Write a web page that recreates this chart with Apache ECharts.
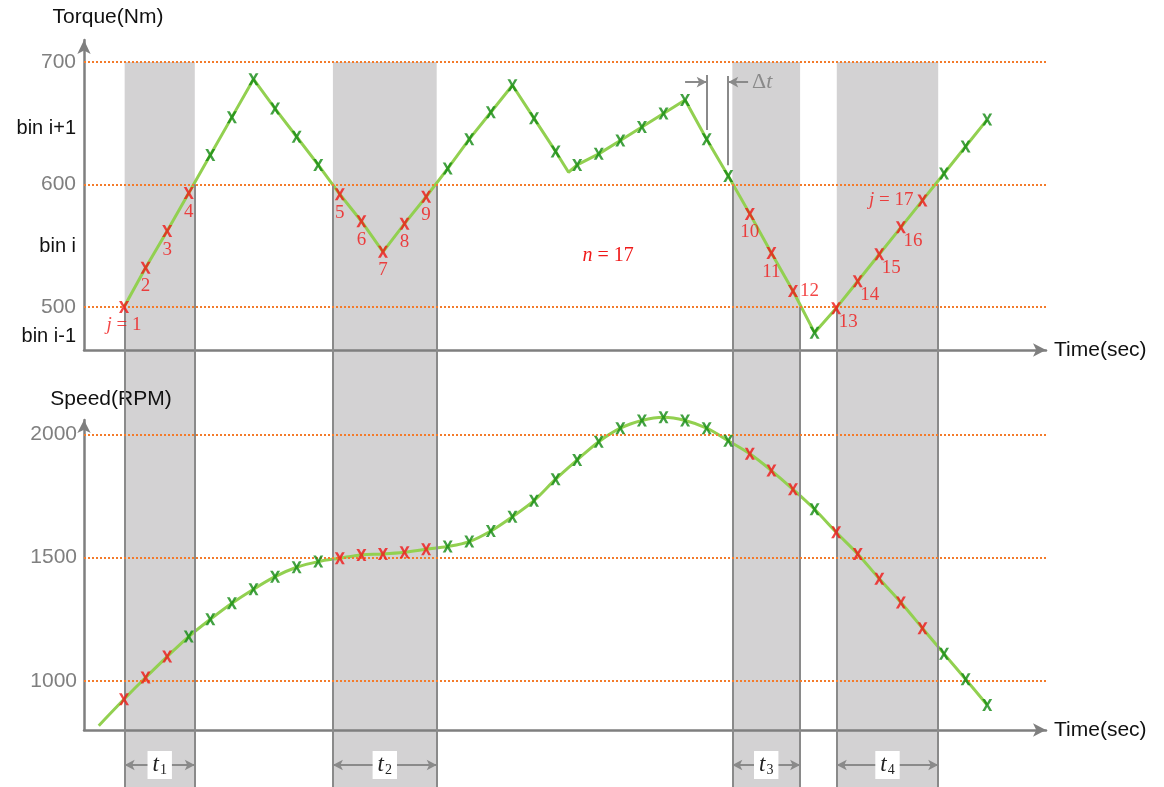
<!DOCTYPE html>
<html><head><meta charset="utf-8">
<script src="https://cdn.jsdelivr.net/npm/echarts@6/dist/echarts.min.js"></script>
<style>html,body{margin:0;padding:0;background:#fff}#c{width:1164px;height:787px}</style>
</head><body><div id="c"></div>
<script>
// ---- data ----
const sampleT = [0,1,2,3,4,5,6,7,8,9,10,11,12,13,14,15,16,17,18,19,20,21,22,23,24,25,26,27,28,29,30,31,32,33,34,35,36,37,38,39,40];
const torque = [500,532,562,593,624,655,686,662,639,616,592,570,545,568,590,613,637,659,681,654,627,616,625,636,647,658,669,637,607,576,544,513,479,499,521,543,565,587,609,631,653];
const torqueVertex = [20.6, 610];           // line corner between samples
const speed = [926,1014,1099,1180,1250,1315,1372,1423,1461,1484,1498,1511,1515,1522,1534,1545,1565,1608,1666,1731,1818,1896,1970,2025,2056,2069,2056,2025,1974,1921,1853,1777,1696,1603,1515,1414,1318,1214,1110,1007,903];
const speedLead = [-1.17, 819];             // start of the speed curve
const torqueRed = [0,1,2,3,10,11,12,13,14,29,30,31,33,34,35,36,37];
const speedRed = [0,1,2,10,11,12,13,14,29,30,31,33,34,35,36,37];
const jLabels = ['j = 1','2','3','4','5','6','7','8','9','10','11','12','13','14','15','16','j = 17'];
const bands = [[0.03,3.28],[9.68,14.49],[28.19,31.33],[33.03,37.73]];
const bandEdgeFrom = [[500,600],[600,600],[600,500],[500,600]];
const bandNames = ['1','2','3','4'];
const torqueTicks = [500,600,700];
const binValues = [476,549,646];
const binNames = ['bin i-1','bin i','bin i+1'];
const speedTicks = [1000,1500,2000];
const deltaT = [27,28];
const nText = 'n = 17';

// ---- scales ----
const X_MIN = -1.854, X_MAX = 42.725;
const T_MIN = 464.85, T_MAX = 717.98;
const S_MIN = 801.4, S_MAX = 2057.97;
const BG_MIN = 107.33, BG_MAX = 700;
const T_LABEL_Y = 125.3;

const GREEN_LINE = '#92d050', GREEN_X = '#138a13', RED_X = '#f01818', ORANGE = '#f37b2b', GRAY = '#7f7f7f', BAND = '#d3d2d3';
const XPATH = 'path://M0,0 L2.8,0 L5,3.9 L7.2,0 L10,0 L6.5,6 L10,12 L7.2,12 L5,8.1 L2.8,12 L0,12 L3.5,6 Z';
const SERIF = '"Liberation Serif", "DejaVu Serif", serif';
const SANS = '"Liberation Sans", Arial, sans-serif';

const torqueLine = sampleT.map((t,i)=>[t,torque[i]]).concat([torqueVertex]).sort((a,b)=>a[0]-b[0]);
const speedLine = [speedLead].concat(sampleT.map((t,i)=>[t,speed[i]]));

function labelPlacement(k){
  if (k === 11) return {position:'right', distance:2};
  if (k === 16) return {position:'left', distance:4};
  if (k >= 12 && k <= 15) return {position:'bottom', distance:4, offset:[12,-6]};
  return {position:'bottom', distance:3};
}
const torqueRedData = torqueRed.map((i,k)=>({value:[sampleT[i],torque[i]], label:Object.assign({show:true, formatter: jLabels[k].replace('j','{i|j}')}, labelPlacement(k))}));
const torqueGreenData = sampleT.map((t,i)=>[t,torque[i]]).filter((d,i)=>torqueRed.indexOf(i)<0);
const speedRedData = speedRed.map(i=>[sampleT[i],speed[i]]);
const speedGreenData = sampleT.map((t,i)=>[t,speed[i]]).filter((d,i)=>speedRed.indexOf(i)<0);

function xAxisDef(gi, show){
  return {type:'value', gridIndex:gi, min:X_MIN, max:X_MAX, show:show, z:3,
    name: show ? 'Time(sec)' : '', nameLocation:'end', nameGap:8,
    nameTextStyle:{color:'#111', fontSize:21, fontFamily:SANS},
    axisLine:{show:true, onZero:false, symbol:['none','arrow'], symbolSize:[10,13], lineStyle:{color:GRAY, width:2.5}},
    axisTick:{show:false}, axisLabel:{show:false}, splitLine:{show:false}};
}
const numRich = {n:{color:GRAY, fontSize:21, fontFamily:SANS}, b:{color:'#111', fontSize:20, fontFamily:SANS}};

const option = {
  animation:false,
  grid:[
    {left:84, top:40, width:962, height:310},
    {left:84, top:420, width:962, height:310},
    {left:84, top:62, width:962, height:725}
  ],
  xAxis:[xAxisDef(0,true), xAxisDef(1,true), {type:'value', gridIndex:2, min:X_MIN, max:X_MAX, show:false}],
  yAxis:[
    {type:'value', gridIndex:0, min:T_MIN, max:T_MAX, z:3,
     name:'Torque(Nm)', nameLocation:'end', nameGap:12,
     nameTextStyle:{color:'#111', fontSize:21, fontFamily:SANS, align:'center', padding:[0,0,0,48]},
     axisLine:{show:true, onZero:false, symbol:['none','arrow'], symbolSize:[10,14], lineStyle:{color:GRAY, width:2.5}},
     axisTick:{show:false}, splitLine:{show:false},
     axisLabel:{customValues:torqueTicks.concat(binValues), margin:8, rich:numRich,
       formatter:v=>{const k=binValues.indexOf(v); return k>=0 ? '{b|'+binNames[k]+'}' : '{n|'+v+'}';}}},
    {type:'value', gridIndex:1, min:S_MIN, max:S_MAX, z:3,
     name:'Speed(RPM)', nameLocation:'end', nameGap:10,
     nameTextStyle:{color:'#111', fontSize:21, fontFamily:SANS, align:'center', padding:[0,0,0,54]},
     axisLine:{show:true, onZero:false, symbol:['none','arrow'], symbolSize:[10,13], lineStyle:{color:GRAY, width:2.5}},
     axisTick:{show:false}, splitLine:{show:false},
     axisLabel:{customValues:speedTicks, margin:7, rich:numRich, formatter:v=>'{n|'+v+'}'}},
    {type:'value', gridIndex:2, min:BG_MIN, max:BG_MAX, show:false}
  ],
  series:[
    {type:'line', name:'bands', xAxisIndex:2, yAxisIndex:2, data:[], z:1, silent:true,
     markArea:{silent:true, itemStyle:{color:BAND}, data:bands.map(b=>[{coord:[b[0],BG_MAX]},{coord:[b[1],BG_MIN]}])},
     markLine:{silent:true, symbol:'none', label:{show:false}, lineStyle:{color:'#8a8a8a', width:2, type:'solid'},
       data:[].concat(...bands.map((b,k)=>[
         [{coord:[b[0],bandEdgeFrom[k][0]]},{coord:[b[0],BG_MIN]}],
         [{coord:[b[1],bandEdgeFrom[k][1]]},{coord:[b[1],BG_MIN]}]]))}},
    {type:'line', name:'tspans', xAxisIndex:2, yAxisIndex:2, data:[], z:3, silent:true,
     markLine:{silent:true, symbol:['arrow','arrow'], symbolSize:[8,10], lineStyle:{color:'#8a8a8a', width:2, type:'solid'},
       label:{show:true, position:'middle', distance:0, verticalAlign:'middle', align:'center', backgroundColor:'#fff', padding:[2,5,2,5],
         rich:{t:{fontFamily:SERIF, fontStyle:'italic', fontSize:23, color:'#222'}, s:{fontFamily:SERIF, fontSize:14, color:'#222', padding:[10,0,0,1]}}},
       data:bands.map((b,k)=>[{coord:[b[0],T_LABEL_Y], label:{formatter:'{t|t}{s|'+bandNames[k]+'}'}},{coord:[b[1],T_LABEL_Y]}])}},
    {type:'line', name:'tguides', xAxisIndex:0, yAxisIndex:0, data:[], z:2, silent:true,
     markLine:{silent:true, symbol:'none', label:{show:false}, lineStyle:{color:ORANGE, width:2, type:'dotted'},
       data:torqueTicks.map(v=>({yAxis:v}))}},
    {type:'line', name:'sguides', xAxisIndex:1, yAxisIndex:1, data:[], z:2, silent:true,
     markLine:{silent:true, symbol:'none', label:{show:false}, lineStyle:{color:ORANGE, width:2, type:'dotted'},
       data:speedTicks.map(v=>({yAxis:v}))}},
    {type:'line', name:'torque', xAxisIndex:0, yAxisIndex:0, data:torqueLine, showSymbol:false, symbol:'none', z:4,
     lineStyle:{color:GREEN_LINE, width:3}},
    {type:'line', name:'speed', xAxisIndex:1, yAxisIndex:1, data:speedLine, showSymbol:false, symbol:'none', smooth:0.35, clip:false, z:4,
     lineStyle:{color:GREEN_LINE, width:3}},
    {type:'scatter', xAxisIndex:0, yAxisIndex:0, data:torqueGreenData, symbol:XPATH, symbolSize:[10,12], z:5, clip:false,
     itemStyle:{color:GREEN_X}},
    {type:'scatter', xAxisIndex:0, yAxisIndex:0, data:torqueRedData, symbol:XPATH, symbolSize:[10,12], z:5, clip:false,
     itemStyle:{color:RED_X},
     label:{color:RED_X, fontFamily:SERIF, fontSize:19, rich:{i:{fontFamily:SERIF, fontStyle:'italic', fontSize:19, color:RED_X}}}},
    {type:'scatter', xAxisIndex:1, yAxisIndex:1, data:speedGreenData, symbol:XPATH, symbolSize:[10,12], z:5, clip:false,
     itemStyle:{color:GREEN_X}},
    {type:'scatter', xAxisIndex:1, yAxisIndex:1, data:speedRedData, symbol:XPATH, symbolSize:[10,12], z:5, clip:false,
     itemStyle:{color:RED_X}},
    {type:'line', name:'annot', xAxisIndex:0, yAxisIndex:0, data:[], z:5, silent:true,
     markLine:{silent:true, symbol:'none', lineStyle:{color:'#8a8a8a', width:2, type:'solid'}, label:{show:false},
       data:[
         [{coord:[deltaT[0],689.4]},{coord:[deltaT[0],644.4]}],
         [{coord:[deltaT[1],688.6]},{coord:[deltaT[1],615.8]}],
         [{coord:[deltaT[0]-1,683.6], symbol:'none'},{coord:[deltaT[0],683.6], symbol:'arrow', symbolSize:[8,10]}],
         [{coord:[deltaT[1]+0.92,683.6], symbol:'none', label:{show:true, position:'start', distance:4, formatter:'{d|Δ}{t|t}',
             rich:{d:{fontFamily:SERIF, fontSize:22, color:'#8a8a8a'}, t:{fontFamily:SERIF, fontStyle:'italic', fontSize:22, color:'#8a8a8a'}}}},
          {coord:[deltaT[1],683.6], symbol:'arrow', symbolSize:[8,10]}]
       ]},
     markPoint:{silent:true, symbol:'circle', symbolSize:1, itemStyle:{color:'rgba(0,0,0,0)'},
       label:{show:true, position:'inside', formatter:nText.replace('n','{i|n}'), color:RED_X, fontFamily:SERIF, fontSize:20,
         rich:{i:{fontFamily:SERIF, fontStyle:'italic', fontSize:20, color:RED_X}}},
       data:[{coord:[22.43,541.7]}]}}
  ]
};
const chart = echarts.init(document.getElementById('c'), null, {renderer:'canvas'});
chart.setOption(option);
</script></body></html>
